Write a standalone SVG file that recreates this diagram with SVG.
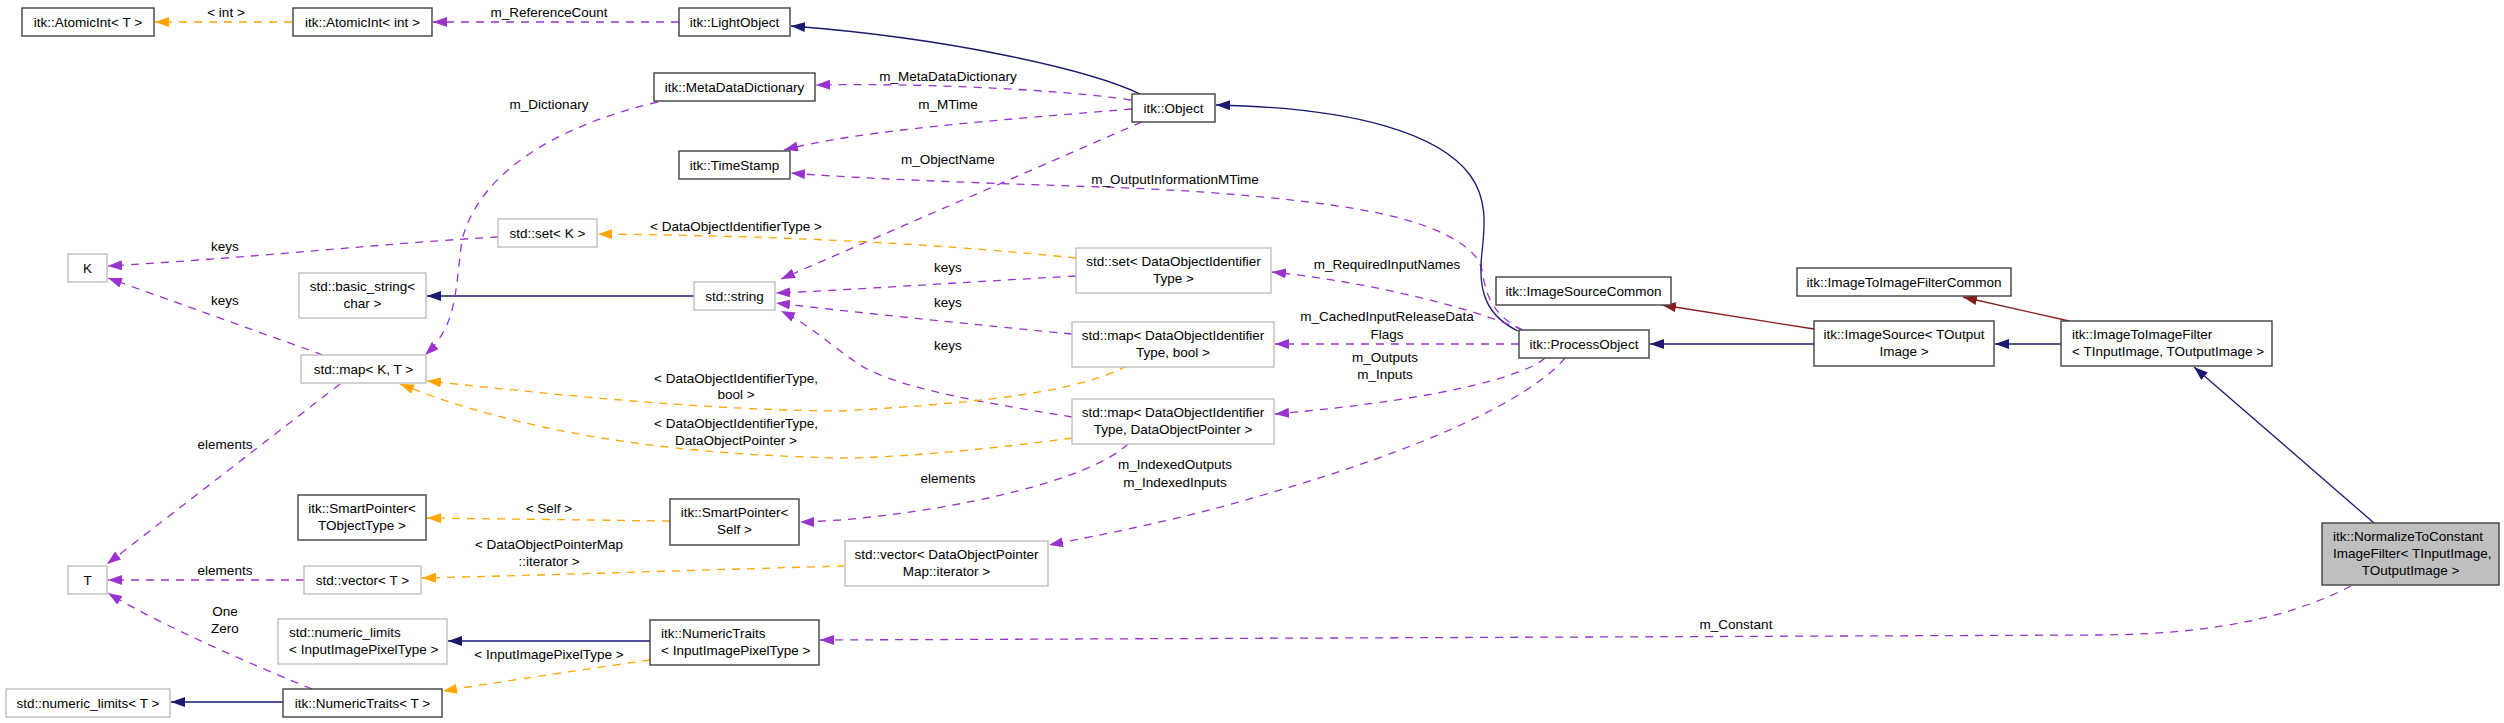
<svg xmlns="http://www.w3.org/2000/svg" width="2504" height="723" viewBox="0 0 2504 723">
<style>
text{font-family:"Liberation Sans",Arial,Helvetica,sans-serif;font-size:13.5px;fill:#000}
.m{text-anchor:middle}
.node rect{fill:#fff;stroke:#404040;stroke-width:1.4}
.node.g rect{stroke:#bfbfbf}
.node.cur rect{fill:#bfbfbf}
.e{fill:none;stroke-width:1.3}
.inh{stroke:#191970}
.red{stroke:#8b1a1a}
.mem{stroke:#9a32cd;stroke-dasharray:8,7}
.tpl{stroke:#ffa500;stroke-dasharray:8,7}
</style>
<defs>
<marker id="aN" markerUnits="userSpaceOnUse" markerWidth="14" markerHeight="10" refX="14" refY="5" orient="auto"><path d="M0,0L14,5L0,10z" fill="#191970"/></marker>
<marker id="aR" markerUnits="userSpaceOnUse" markerWidth="14" markerHeight="10" refX="14" refY="5" orient="auto"><path d="M0,0L14,5L0,10z" fill="#8b1a1a"/></marker>
<marker id="aP" markerUnits="userSpaceOnUse" markerWidth="14" markerHeight="10" refX="14" refY="5" orient="auto"><path d="M0,0L14,5L0,10z" fill="#9a32cd"/></marker>
<marker id="aO" markerUnits="userSpaceOnUse" markerWidth="14" markerHeight="10" refX="14" refY="5" orient="auto"><path d="M0,0L14,5L0,10z" fill="#ffa500"/></marker>
</defs>
<rect width="2504" height="723" fill="#fff"/>
<g id="connectors">
<path class="e tpl" d="M292,22L155,22" marker-end="url(#aO)"/>
<text class="m" x="226" y="17">&lt; int &gt;</text>
<path class="e mem" d="M679,22L433,22" marker-end="url(#aP)"/>
<text class="m" x="549" y="17">m_ReferenceCount</text>
<path class="e inh" d="M1140,94C1090,70 950,38 791,26" marker-end="url(#aN)"/>
<path class="e mem" d="M1131,100C1050,88 900,83 816,85" marker-end="url(#aP)"/>
<text class="m" x="948" y="81">m_MetaDataDictionary</text>
<path class="e mem" d="M1132,109C1000,120 860,130 784,150" marker-end="url(#aP)"/>
<text class="m" x="948" y="109">m_MTime</text>
<path class="e mem" d="M1523,330C1490,315 1485,290 1482,270C1478,250 1450,232 1400,218C1330,200 1200,190 1100,187C950,182 850,178 791,173" marker-end="url(#aP)"/>
<text class="m" x="1175" y="184">m_OutputInformationMTime</text>
<path class="e inh" d="M1518,331C1485,315 1480,290 1481,265C1482,240 1492,205 1470,175C1440,135 1360,108 1216,105" marker-end="url(#aN)"/>
<path class="e mem" d="M1142,122L781,279" marker-end="url(#aP)"/>
<text class="m" x="948" y="164">m_ObjectName</text>
<path class="e tpl" d="M1076,258C950,245 800,236 598,234" marker-end="url(#aO)"/>
<text class="m" x="736" y="231">&lt; DataObjectIdentifierType &gt;</text>
<path class="e mem" d="M498,237C400,242 250,258 108,266" marker-end="url(#aP)"/>
<text class="m" x="225" y="251">keys</text>
<path class="e mem" d="M323,355L108,278" marker-end="url(#aP)"/>
<text class="m" x="225" y="305">keys</text>
<path class="e inh" d="M694,296L427,296" marker-end="url(#aN)"/>
<path class="e mem" d="M658,102C560,125 480,170 462,240C455,290 458,325 425,355" marker-end="url(#aP)"/>
<text class="m" x="549" y="109">m_Dictionary</text>
<path class="e mem" d="M1076,276C950,283 850,290 776,293" marker-end="url(#aP)"/>
<text class="m" x="948" y="272">keys</text>
<path class="e mem" d="M1072,334C980,325 860,313 776,303" marker-end="url(#aP)"/>
<text class="m" x="948" y="307">keys</text>
<path class="e mem" d="M1072,417C1000,405 900,390 860,365C830,345 810,325 781,311" marker-end="url(#aP)"/>
<text class="m" x="948" y="350">keys</text>
<path class="e tpl" d="M1127,366C1080,390 1000,402 840,411C700,410 560,395 427,381" marker-end="url(#aO)"/>
<text class="m" x="736" y="383">&lt; DataObjectIdentifierType,</text>
<text class="m" x="736" y="399">bool &gt;</text>
<path class="e tpl" d="M1072,438C1000,448 900,458 840,458C700,455 540,440 400,384" marker-end="url(#aO)"/>
<text class="m" x="736" y="428">&lt; DataObjectIdentifierType,</text>
<text class="m" x="736" y="445">DataObjectPointer &gt;</text>
<path class="e mem" d="M340,384L107,564" marker-end="url(#aP)"/>
<text class="m" x="225" y="449">elements</text>
<path class="e mem" d="M304,580L108,580" marker-end="url(#aP)"/>
<text class="m" x="225" y="575">elements</text>
<path class="e mem" d="M312,689C260,668 160,625 108,593" marker-end="url(#aP)"/>
<text class="m" x="225" y="616">One</text>
<text class="m" x="225" y="633">Zero</text>
<path class="e inh" d="M283,702L171,702" marker-end="url(#aN)"/>
<path class="e inh" d="M650,641L448,641" marker-end="url(#aN)"/>
<path class="e tpl" d="M650,660C580,670 500,682 443,691" marker-end="url(#aO)"/>
<text class="m" x="549" y="659">&lt; InputImagePixelType &gt;</text>
<path class="e tpl" d="M670,521L427,518" marker-end="url(#aO)"/>
<text class="m" x="549" y="513">&lt; Self &gt;</text>
<path class="e tpl" d="M845,566C700,570 550,575 422,578" marker-end="url(#aO)"/>
<text class="m" x="549" y="549">&lt; DataObjectPointerMap</text>
<text class="m" x="549" y="566">::iterator &gt;</text>
<path class="e mem" d="M1128,444C1090,480 960,510 840,520C820,521 810,522 800,522" marker-end="url(#aP)"/>
<text class="m" x="948" y="483">elements</text>
<path class="e mem" d="M1523,330C1450,300 1350,280 1272,272" marker-end="url(#aP)"/>
<text class="m" x="1387" y="269">m_RequiredInputNames</text>
<path class="e mem" d="M1519,344L1275,344" marker-end="url(#aP)"/>
<text class="m" x="1387" y="321">m_CachedInputReleaseData</text>
<text class="m" x="1387" y="339">Flags</text>
<path class="e mem" d="M1545,358C1530,372 1460,398 1275,414" marker-end="url(#aP)"/>
<text class="m" x="1385" y="362">m_Outputs</text>
<text class="m" x="1385" y="379">m_Inputs</text>
<path class="e mem" d="M1565,358C1530,400 1420,450 1263,495C1180,520 1100,535 1049,545" marker-end="url(#aP)"/>
<text class="m" x="1175" y="469">m_IndexedOutputs</text>
<text class="m" x="1175" y="487">m_IndexedInputs</text>
<path class="e mem" d="M2351,586C2300,612 2230,634 2100,635L820,640" marker-end="url(#aP)"/>
<text class="m" x="1736" y="629">m_Constant</text>
<path class="e red" d="M1814,329L1662,305" marker-end="url(#aR)"/>
<path class="e inh" d="M1814,344L1650,344" marker-end="url(#aN)"/>
<path class="e inh" d="M2061,344L1995,344" marker-end="url(#aN)"/>
<path class="e red" d="M2069,321L1963,297" marker-end="url(#aR)"/>
<path class="e inh" d="M2374,523L2194,367" marker-end="url(#aN)"/>
</g>
<g id="n_atomicT" class="node"><rect x="22" y="8" width="132" height="28"/><text class="m" x="88" y="27">itk::AtomicInt&lt; T &gt;</text></g>
<g id="n_atomicInt" class="node"><rect x="293" y="8" width="139" height="28"/><text class="m" x="362.5" y="27">itk::AtomicInt&lt; int &gt;</text></g>
<g id="n_lightObject" class="node"><rect x="679" y="8" width="111" height="28"/><text class="m" x="734.5" y="27">itk::LightObject</text></g>
<g id="n_metaData" class="node"><rect x="654" y="73" width="161" height="28"/><text class="m" x="734.5" y="92">itk::MetaDataDictionary</text></g>
<g id="n_timeStamp" class="node"><rect x="679" y="151" width="111" height="28"/><text class="m" x="734.5" y="170">itk::TimeStamp</text></g>
<g id="n_setK" class="node g"><rect x="498" y="219" width="99" height="28"/><text class="m" x="547.5" y="238">std::set&lt; K &gt;</text></g>
<g id="n_string" class="node g"><rect x="694" y="282" width="81" height="28"/><text class="m" x="734.5" y="301">std::string</text></g>
<g id="n_basicString" class="node g"><rect x="299" y="273" width="127" height="45"/><text class="m" x="362.5" y="291">std::basic_string&lt;</text><text class="m" x="362.5" y="308">char &gt;</text></g>
<g id="n_K" class="node g"><rect x="68" y="254" width="39" height="28"/><text class="m" x="87.5" y="273">K</text></g>
<g id="n_mapKT" class="node g"><rect x="301" y="355" width="125" height="28"/><text class="m" x="363.5" y="374">std::map&lt; K, T &gt;</text></g>
<g id="n_T" class="node g"><rect x="68" y="566" width="39" height="28"/><text class="m" x="87.5" y="585">T</text></g>
<g id="n_smartPtrT" class="node"><rect x="298" y="495" width="128" height="45"/><text class="m" x="362" y="513">itk::SmartPointer&lt;</text><text class="m" x="362" y="530">TObjectType &gt;</text></g>
<g id="n_vectorT" class="node g"><rect x="304" y="566" width="117" height="28"/><text class="m" x="362.5" y="585">std::vector&lt; T &gt;</text></g>
<g id="n_numLimIIPT" class="node g"><rect x="278" y="619" width="169" height="45"/><text x="289" y="637">std::numeric_limits</text><text x="289" y="654">&lt; InputImagePixelType &gt;</text></g>
<g id="n_numLimT" class="node g"><rect x="6" y="689" width="164" height="28"/><text class="m" x="88" y="708">std::numeric_limits&lt; T &gt;</text></g>
<g id="n_numTraitsT" class="node"><rect x="283" y="689" width="159" height="28"/><text class="m" x="362.5" y="708">itk::NumericTraits&lt; T &gt;</text></g>
<g id="n_smartPtrSelf" class="node"><rect x="670" y="499" width="129" height="46"/><text class="m" x="734.5" y="517">itk::SmartPointer&lt;</text><text class="m" x="734.5" y="534">Self &gt;</text></g>
<g id="n_numTraitsIIPT" class="node"><rect x="650" y="620" width="169" height="45"/><text x="661" y="638">itk::NumericTraits</text><text x="661" y="655">&lt; InputImagePixelType &gt;</text></g>
<g id="n_vectorDOPM" class="node g"><rect x="845" y="541" width="203" height="45"/><text class="m" x="946.5" y="559">std::vector&lt; DataObjectPointer</text><text class="m" x="946.5" y="576">Map::iterator &gt;</text></g>
<g id="n_mapDOP" class="node g"><rect x="1072" y="399" width="202" height="45"/><text class="m" x="1173" y="417">std::map&lt; DataObjectIdentifier</text><text class="m" x="1173" y="434">Type, DataObjectPointer &gt;</text></g>
<g id="n_mapBool" class="node g"><rect x="1072" y="322" width="202" height="45"/><text class="m" x="1173" y="340">std::map&lt; DataObjectIdentifier</text><text class="m" x="1173" y="357">Type, bool &gt;</text></g>
<g id="n_setDOIT" class="node g"><rect x="1076" y="248" width="195" height="45"/><text class="m" x="1173.5" y="266">std::set&lt; DataObjectIdentifier</text><text class="m" x="1173.5" y="283">Type &gt;</text></g>
<g id="n_object" class="node"><rect x="1132" y="94" width="83" height="28"/><text class="m" x="1173.5" y="113">itk::Object</text></g>
<g id="n_processObject" class="node"><rect x="1519" y="330" width="130" height="28"/><text class="m" x="1584" y="349">itk::ProcessObject</text></g>
<g id="n_imageSourceCommon" class="node"><rect x="1496" y="277" width="175" height="28"/><text class="m" x="1583.5" y="296">itk::ImageSourceCommon</text></g>
<g id="n_i2iCommon" class="node"><rect x="1797" y="268" width="214" height="28"/><text class="m" x="1904" y="287">itk::ImageToImageFilterCommon</text></g>
<g id="n_imageSource" class="node"><rect x="1814" y="321" width="180" height="45"/><text class="m" x="1904" y="339">itk::ImageSource&lt; TOutput</text><text class="m" x="1904" y="356">Image &gt;</text></g>
<g id="n_i2iFilter" class="node"><rect x="2061" y="321" width="211" height="45"/><text x="2072" y="339">itk::ImageToImageFilter</text><text x="2072" y="356">&lt; TInputImage, TOutputImage &gt;</text></g>
<g id="n_normalize" class="node cur"><rect x="2322" y="523" width="177" height="62"/><text x="2333" y="541">itk::NormalizeToConstant</text><text x="2333" y="558">ImageFilter&lt; TInputImage,</text><text class="m" x="2410.5" y="575">TOutputImage &gt;</text></g>
</svg>
